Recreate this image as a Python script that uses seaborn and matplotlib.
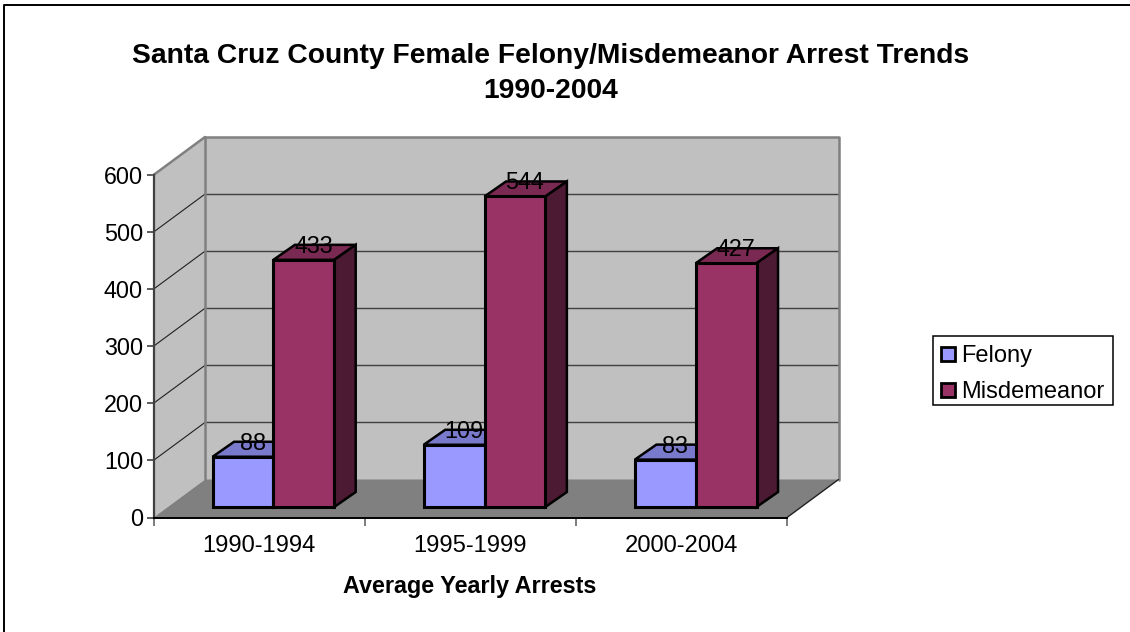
import matplotlib
matplotlib.use("Agg")
import matplotlib.pyplot as plt
from matplotlib.patches import Polygon, Rectangle
from matplotlib.transforms import Affine2D, IdentityTransform
import pandas as pd
import seaborn as sns

periods = ["1990-1994", "1995-1999", "2000-2004"]
felony = [88, 109, 83]
misdemeanor = [433, 544, 427]
series_names = ["Felony", "Misdemeanor"]
y_ticks = [0, 100, 200, 300, 400, 500, 600]
title_lines = ["Santa Cruz County Female Felony/Misdemeanor Arrest Trends", "1990-2004"]
x_label = "Average Yearly Arrests"

BLUE, BLUE_TOP = "#9999FF", "#7A7ACC"
PLUM, PLUM_TOP, PLUM_SIDE = "#993366", "#7A2952", "#4D1A33"
FLOOR, WALL, EDGE = "#808080", "#C0C0C0", "#808080"

W, H = 1130, 632
sns.set_theme(style="white")
plt.rcParams["font.family"] = ["Liberation Sans", "DejaVu Sans"]

fig = plt.figure(figsize=(W / 100, H / 100), dpi=100)
L, R, T, B = 153.5, 787, 175, 517.5
ax = fig.add_axes([L / W, 1 - B / H, (R - L) / W, (B - T) / H])

df = pd.DataFrame({
    "period": periods * 2,
    "series": [series_names[0]] * 3 + [series_names[1]] * 3,
    "value": felony + misdemeanor,
})
sns.barplot(data=df, x="period", y="value", hue="series", hue_order=series_names,
            palette=[BLUE, PLUM], width=0.576, gap=0, saturation=1, errorbar=None,
            edgecolor="black", linewidth=2.2, ax=ax, zorder=5, legend=False)
ax.set_xlim(-0.5, 2.5)
ax.set_ylim(0, 600)
bars = list(ax.patches)

PX = IdentityTransform()


def shifted(dx, dy):
    return Affine2D().translate(dx, dy)


WALL_DX, WALL_DY = 51.5, 38
wall_tf = ax.transData + shifted(WALL_DX, WALL_DY)
base = ax.transData

x0, x1 = ax.get_xlim()
y0, y1 = ax.get_ylim()


def depth_poly(points, **kw):
    """points: (x, y, depth in 0..1) in data space."""
    disp = [base.transform((x, y)) + (WALL_DX * d, WALL_DY * d) for x, y, d in points]
    p = Polygon(disp, closed=True, transform=PX, clip_on=False, **kw)
    ax.add_artist(p)
    return p


depth_poly([(x0, y0, 1), (x1, y0, 1), (x1, y1, 1), (x0, y1, 1)], facecolor=WALL, edgecolor="none", zorder=1)
depth_poly([(x0, y0, 0), (x0, y0, 1), (x0, y1, 1), (x0, y1, 0)], facecolor=WALL, edgecolor="none", zorder=1)

# gridlines on back wall and left wall
for v in y_ticks[1:-1]:
    ax.plot([x0, x1], [v, v], color="#404040", lw=1.0, transform=wall_tf, zorder=2, clip_on=False)
    a = base.transform((x0, v))
    b = a + (WALL_DX, WALL_DY)
    ax.plot([a[0], b[0]], [a[1], b[1]], color="#202020", lw=0.8, transform=PX, zorder=2, clip_on=False)

# wall edges
ax.plot([x0, x0, x1, x1], [y0, y1, y1, y0], color=EDGE, lw=1.8, transform=wall_tf, zorder=2.5, clip_on=False)
a = base.transform((x0, y1))
ax.plot([a[0], a[0] + WALL_DX], [a[1], a[1] + WALL_DY], color=EDGE, lw=1.8, transform=PX, zorder=2.5, clip_on=False)
depth_poly([(x0, y0, 0), (x1, y0, 0), (x1, y0, 1), (x0, y0, 1)], facecolor=FLOOR, edgecolor="none", zorder=2.6)
a = base.transform((x1, y0))
ax.plot([a[0], a[0] + WALL_DX], [a[1], a[1] + WALL_DY], color="#202020", lw=1, transform=PX, zorder=2.7, clip_on=False)

# 3D bars: shift seaborn's bars onto the floor and add top and side faces
BAR_DX, BAR_DY = 14.3, 10.5
DEPTH = (21.5, 15)
bar_tf = ax.transData + shifted(BAR_DX, BAR_DY)
faces = [(BLUE_TOP, BLUE_TOP), (PLUM_TOP, PLUM_SIDE)]
for i, bar in enumerate(bars):
    series = i // 3
    top_c, side_c = faces[series]
    bar.set_transform(bar_tf)
    bar.set_clip_on(False)
    bar.set_joinstyle("miter")
    xa, xb = bar.get_x(), bar.get_x() + bar.get_width()
    h = bar.get_height()
    pa = bar_tf.transform((xa, h))
    pb = bar_tf.transform((xb, h))
    pc = bar_tf.transform((xb, 0))
    z = 4 if series == 0 else 4.5
    ax.add_artist(Polygon([pa, pb, pb + DEPTH, pa + DEPTH], closed=True, transform=PX, facecolor=top_c,
                          edgecolor="black", linewidth=1.8, joinstyle="miter", zorder=z, clip_on=False))
    ax.add_artist(Polygon([pb, pc, pc + DEPTH, pb + DEPTH], closed=True, transform=PX, facecolor=side_c,
                          edgecolor="black", linewidth=1.8, joinstyle="miter", zorder=z, clip_on=False))
    bar.set_zorder(z + 0.2)
    lab = bar_tf.transform(((xa + xb) / 2, h))
    ax.text(lab[0] + 10, lab[1] + 13.5, f"{int(h)}", transform=PX, ha="center", va="center",
            fontsize=16.8, color="black", zorder=8, clip_on=False)

# axes
for name in ("top", "right"):
    ax.spines[name].set_visible(False)
ax.patch.set_alpha(0)
ax.spines["left"].set_color("#404040")
ax.spines["left"].set_linewidth(1.6)
ax.spines["bottom"].set_color("black")
ax.spines["bottom"].set_linewidth(1.4)
ax.spines["left"].set_zorder(3)
ax.spines["bottom"].set_zorder(3)
ax.set_yticks(y_ticks)
ax.set_xticks([x0, x0 + 1, x0 + 2, x1])
ax.set_xticklabels([])
ax.tick_params(axis="y", left=True, length=5, width=1.2, color="#404040", labelsize=16.8,
               labelcolor="black", pad=2.5)
ax.tick_params(axis="x", bottom=True, length=5.5, width=1.2, color="#666666")
ax.set_xlabel("")
ax.set_ylabel("")
for i, p in enumerate(periods):
    ax.annotate(p, xy=(i, 0), xycoords=ax.get_xaxis_transform(), xytext=(0, -28.5),
                textcoords="offset pixels", ha="center", va="center", fontsize=17.1, color="black",
                annotation_clip=False)

fig.text(551 / W, 1 - 56 / H, title_lines[0], ha="center", va="center", fontsize=20.3, fontweight="bold", color="black")
fig.text(551 / W, 1 - 91 / H, title_lines[1], ha="center", va="center", fontsize=20.3, fontweight="bold", color="black")
fig.text(470 / W, 1 - 586 / H, x_label, ha="center", va="center", fontsize=16.8, fontweight="bold", color="black")

# legend
fig.add_artist(Rectangle((932.5 / W, 1 - 405 / H), 180 / W, 69.5 / H, transform=fig.transFigure,
                         facecolor="white", edgecolor="black", linewidth=1.1))
for name, c, yc in zip(series_names, [BLUE, PLUM], [354, 390]):
    fig.add_artist(Rectangle((940.5 / W, 1 - (yc + 7) / H), 14 / W, 14 / H, transform=fig.transFigure,
                             facecolor=c, edgecolor="black", linewidth=2))
    fig.text(961 / W, 1 - (yc - 0.5) / H, name, ha="left", va="center_baseline", fontsize=17, color="black")

# figure border (top and left)
fig.add_artist(plt.Line2D([4 / W, 4 / W, 1.0], [0, 1 - 4.5 / H, 1 - 4.5 / H], color="black", lw=1.4,
                          transform=fig.transFigure))

fig.savefig("out.png", dpi=100)
